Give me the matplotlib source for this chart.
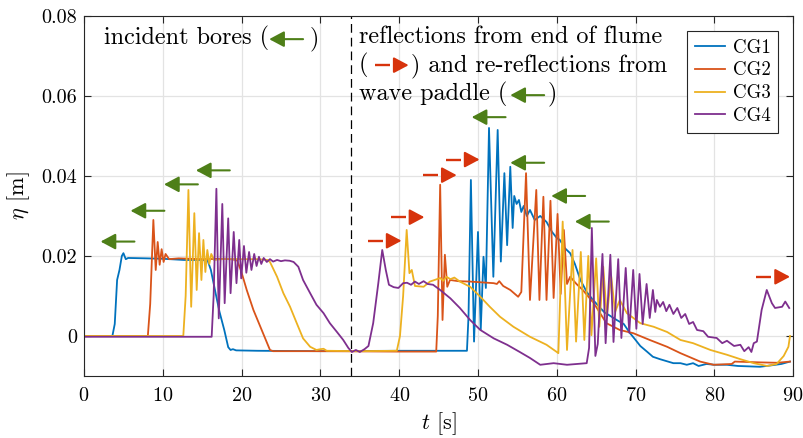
import matplotlib
matplotlib.use('Agg')
import matplotlib.pyplot as plt

plt.rcParams['font.family'] = 'cmr10'
plt.rcParams['mathtext.fontset'] = 'cm'
plt.rcParams['axes.formatter.use_mathtext'] = True

# gauge records, time [s] and surface elevation eta [m]
t_cg1 = [0, 3.6, 3.9, 4.2, 4.5, 4.8, 5.0, 5.3, 5.6, 8, 10, 12.7, 15.0, 15.7, 16.1, 16.7, 17.2,
         17.8, 18.3, 18.6, 18.9, 19.3, 22, 30, 40, 48.6, 48.8, 49.1, 49.5, 50.0, 50.35, 50.7,
         51.0, 51.4, 51.95, 52.5, 52.9, 53.35, 53.7, 54.1, 54.4, 54.6, 54.9, 55.2, 55.5, 55.8,
         56.2, 56.6, 57.2, 57.9, 58.7, 59.4, 60.0, 60.4, 61.0, 61.7, 62.3, 63.0, 63.8, 64.6,
         66.0, 67.6, 68.5, 69.3, 70.0, 70.6, 71.5, 72.2, 73.1, 74.8, 75.7, 76.5, 77.3, 78.0,
         79.0, 80.0, 81.6, 83.0, 85.8, 87.0, 88.5, 89.6]
eta_cg1 = [0, 0, 0.003, 0.014, 0.0165, 0.020, 0.0207, 0.0192, 0.0195, 0.0194, 0.0193, 0.0190,
           0.0190, 0.0188, 0.0165, 0.0107, 0.006, 0.0015, -0.0028, -0.0035, -0.0033, -0.0036,
           -0.0037, -0.0038, -0.0037, -0.0037, 0.005, 0.039, -0.0014, 0.026, 0.0015, 0.0198,
           0.012, 0.052, 0.0148, 0.0515, 0.0186, 0.0407, 0.0227, 0.0423, 0.027, 0.035, 0.033,
           0.034, 0.031, 0.0325, 0.030, 0.0315, 0.029, 0.030, 0.0285, 0.026, 0.0245, 0.024,
           0.022, 0.0207, 0.018, 0.014, 0.011, 0.009, 0.006, 0.004, 0.003, 0.0007, -0.001,
           -0.0025, -0.004, -0.0052, -0.0058, -0.0068, -0.0068, -0.0072, -0.0068, -0.0075,
           -0.007, -0.0072, -0.0072, -0.0075, -0.0077, -0.0074, -0.007, -0.0064]

t_cg2 = [0, 8.1, 8.4, 8.8, 9.1, 9.35, 9.6, 9.85, 10.1, 10.35, 10.8, 12, 15, 18, 19.4, 19.9,
         20.65, 21.5, 22.55, 23.6, 24.0, 30, 40, 44.7, 44.9, 45.2, 45.5, 45.8, 46.1, 46.45,
         47.5, 49.0, 50.5, 52.0, 52.4, 52.7, 53.2, 54.1, 55.1, 55.5, 56.1, 56.6, 57.4, 57.8,
         58.3, 58.7, 59.2, 59.6, 60.1, 60.5, 60.9, 61.3, 61.7, 62.5, 63.3, 64.7, 66.3, 68.0,
         69.7, 71.8, 74.0, 75.7, 78.2, 79.9, 82.2, 82.6, 85.8, 88.0, 89.6]
eta_cg2 = [0, 0, 0.008, 0.029, 0.0165, 0.0235, 0.0178, 0.0217, 0.0185, 0.0205, 0.0192, 0.0194,
           0.0192, 0.0193, 0.0190, 0.0165, 0.0115, 0.0065, 0.0015, -0.0035, -0.0038, -0.0038,
           -0.0039, -0.0039, 0.005, 0.0378, 0.004, 0.0203, 0.0123, 0.014, 0.0137, 0.0136,
           0.0134, 0.0132, 0.0130, 0.0137, 0.0125, 0.0115, 0.0098, 0.011, 0.0407, 0.009,
           0.0365, 0.009, 0.0348, 0.009, 0.0338, 0.0095, 0.0305, 0.0105, 0.0265, 0.013,
           0.0148, 0.013, 0.0115, 0.0082, 0.0032, 0.0015, 0.0007, -0.001, -0.0027, -0.0043,
           -0.0064, -0.0072, -0.0070, -0.0064, -0.0066, -0.0067, -0.0064]

t_cg3 = [0, 12.6, 12.9, 13.25, 13.6, 14.0, 14.3, 14.6, 14.9, 15.15, 15.4, 15.65, 15.9, 16.15,
         16.5, 18, 20, 22, 23.3, 23.6, 24.5, 25.3, 26.15, 27.0, 27.8, 28.7, 29.5, 30.0, 30.4,
         30.8, 35, 39.7, 40.1, 40.5, 40.95, 41.3, 41.6, 42.0, 43.1, 43.9, 44.5, 45.2, 45.6,
         46.0, 46.5, 47.0, 47.7, 49.0, 50.3, 51.5, 52.8, 54.5, 56.6, 58.7, 60.0, 60.2, 60.75,
         61.3, 62.0, 62.45, 63.05, 63.5, 64.0, 64.4, 65.0, 65.4, 65.9, 66.35, 66.9, 67.4,
         68.0, 68.9, 70.6, 72.3, 74.0, 75.7, 77.3, 79.5, 81.6, 83.3, 85.0, 86.7, 87.9, 88.8,
         89.4, 89.6]
eta_cg3 = [0, 0, 0.01, 0.0365, 0.0073, 0.0307, 0.0115, 0.0257, 0.014, 0.024, 0.016, 0.0215,
           0.018, 0.0205, 0.0190, 0.0193, 0.0192, 0.0192, 0.019, 0.0185, 0.0148, 0.0107,
           0.0073, 0.0032, -0.0006, -0.0027, -0.0035, -0.0033, -0.0032, -0.0037, -0.0038,
           -0.0037, 0.0, 0.010, 0.0265, 0.0157, 0.0165, 0.0125, 0.0123, 0.0136, 0.014, 0.0145,
           0.0138, 0.0148, 0.0142, 0.0146, 0.0136, 0.0123, 0.0098, 0.0073, 0.0048, 0.0023,
           -0.0002, -0.0022, -0.004, -0.0043, 0.0286, -0.0035, 0.0215, -0.0014, 0.021, -0.001,
           0.020, 0.0002, 0.0194, 0.0023, 0.0173, 0.0048, 0.015, 0.006, 0.009, 0.0057, 0.0032,
           0.0023, 0.001, -0.001, -0.0018, -0.0035, -0.0047, -0.0058, -0.0068, -0.0075,
           -0.007, -0.005, -0.0027, 0.0]

t_cg4 = [0, 16.2, 16.45, 16.8, 17.1, 17.55, 17.85, 18.3, 18.6, 19.0, 19.35, 19.7, 19.95, 20.3,
         20.6, 20.95, 21.25, 21.6, 21.9, 22.2, 22.5, 22.8, 23.2, 23.6, 24.0, 24.5, 25.0, 25.5,
         26.1, 26.6, 27.2, 27.8, 28.7, 29.5, 30.4, 31.2, 32.1, 32.9, 33.55, 34.0, 34.5, 35.0,
         35.6, 36.1, 36.7, 37.35, 37.85, 38.3, 38.7, 39.3, 39.9, 40.5, 41.0, 41.5, 42.0, 42.5,
         43.1, 43.6, 44.3, 45.2, 46.5, 47.7, 49.0, 50.3, 52.0, 53.7, 55.3, 56.6, 57.9, 59.6,
         61.3, 63.8, 64.1, 64.45, 64.9, 65.2, 65.8, 66.2, 66.8, 67.2, 67.8, 68.2, 68.75, 69.2,
         69.7, 70.1, 70.5, 70.9, 71.4, 71.8, 72.2, 72.5, 72.7, 73.1, 73.5, 73.9, 74.3, 74.8,
         75.3, 75.8, 76.3, 76.8, 77.3, 77.8, 78.6, 79.2, 80.3, 81.0, 81.6, 82.5, 83.3, 83.8,
         84.35, 84.7, 85.0, 85.4, 86.0, 86.65, 87.3, 87.7, 88.6, 89.0, 89.5]
eta_cg4 = [-0.0002, -0.0002, 0.01, 0.0368, 0.0044, 0.033, 0.0082, 0.0294, 0.0107, 0.026,
           0.0132, 0.024, 0.0144, 0.0225, 0.0158, 0.021, 0.0165, 0.0205, 0.0175, 0.0198, 0.018,
           0.0195, 0.0185, 0.0192, 0.0186, 0.0190, 0.0187, 0.0189, 0.0188, 0.0185, 0.0173,
           0.014, 0.0107, 0.0078, 0.0057, 0.0032, 0.001, -0.001, -0.003, -0.004, -0.0035,
           -0.004, -0.0033, -0.0025, 0.0032, 0.0132, 0.0215, 0.0165, 0.0128, 0.0122, 0.012,
           0.0132, 0.0133, 0.0128, 0.0136, 0.013, 0.0137, 0.013, 0.0128, 0.0115, 0.0094, 0.007,
           0.004, 0.0015, -0.0006, -0.0022, -0.004, -0.0055, -0.0072, -0.0068, -0.0072,
           -0.0068, -0.003, 0.027, -0.005, -0.002, 0.0205, -0.0018, 0.0203, -0.0015, 0.0192,
           -0.0005, 0.0170, 0.0008, 0.0165, 0.0018, 0.0155, 0.003, 0.013, 0.0045, 0.0115,
           0.006, 0.009, 0.0073, 0.0085, 0.0062, 0.0078, 0.0055, 0.007, 0.0045, 0.0055, 0.003,
           0.0035, 0.0015, 0.0012, -0.0002, -0.0005, -0.0018, -0.0012, -0.0025, -0.0022,
           -0.0038, -0.0028, -0.004, -0.0018, -0.0014, 0.0065, 0.0115, 0.0082, 0.007, 0.0073,
           0.0086, 0.007]

labels = ['CG1', 'CG2', 'CG3', 'CG4']
colors = ['#0072BD', '#D95319', '#EDB120', '#7E2F8E']

# arrow tips (t, eta)
green_tips = [(2.1, 0.0236), (5.9, 0.0313), (10.15, 0.0379), (14.2, 0.0414),
              (49.2, 0.0547), (54.1, 0.0433), (59.3, 0.035), (62.3, 0.0286)]
red_tips = [(40.3, 0.0238), (43.2, 0.0297), (47.3, 0.0402), (50.2, 0.0441), (89.6, 0.0148)]
t_split = 33.9

green = '#4E7F18'
red = '#D7330C'

fig = plt.figure(figsize=(8.04, 4.38), dpi=100)
ax = fig.add_axes([0.1045, 0.1416, 0.882, 0.822])

series = [(t_cg1, eta_cg1), (t_cg2, eta_cg2), (t_cg3, eta_cg3), (t_cg4, eta_cg4)]
for (tt, ee), lab, c in zip(series, labels, colors):
    ax.plot(tt, ee, color=c, lw=1.3, label=lab)

ax.axvline(t_split, color='black', lw=0.9, ls=(0, (7, 4)))

arrow_len = 4.3
head = dict(arrowstyle='-|>,head_length=0.45,head_width=0.24', mutation_scale=20,
            shrinkA=0, shrinkB=0, lw=1.5)


def green_arrow(x, y):
    ax.annotate('', xy=(x, y), xytext=(x + arrow_len, y),
                arrowprops=dict(color=green, **head))


def red_arrow(x, y):
    ax.plot([x - arrow_len, x - 2.35], [y, y], color=red, lw=1.7, solid_capstyle='butt')
    ax.annotate('', xy=(x, y), xytext=(x - 1.75, y),
                arrowprops=dict(color=red, **head))


for x, y in green_tips:
    green_arrow(x, y)
for x, y in red_tips:
    red_arrow(x, y)

# annotation text
fs = 17.4
ax.text(2.5, 0.0729, 'incident bores (', fontsize=fs)
green_arrow(23.5, 0.0742)
ax.text(28.6, 0.0729, ')', fontsize=fs)

ax.text(34.9, 0.0733, 'reflections from end of flume', fontsize=fs)
ax.text(34.9, 0.0662, '(', fontsize=fs)
red_arrow(41.2, 0.0677)
ax.text(41.5, 0.0662, ') and re-reflections from', fontsize=fs)
ax.text(34.9, 0.0590, 'wave paddle (', fontsize=fs)
green_arrow(54.1, 0.0602)
ax.text(58.8, 0.0590, ')', fontsize=fs)

ax.set_xlim(0, 90)
ax.set_ylim(-0.01, 0.08)
ax.set_xticks(range(0, 91, 10))
ax.set_yticks([0, 0.02, 0.04, 0.06, 0.08])
ax.set_yticklabels(['0', '0.02', '0.04', '0.06', '0.08'])
ax.tick_params(direction='in', top=True, right=True, length=5, width=0.8,
               labelsize=14.5, colors='#262626', labelcolor='black')
ax.tick_params(axis='x', pad=8)
ax.tick_params(axis='y', pad=5)
ax.grid(True, color='#e3e3e3', lw=0.9)
ax.set_axisbelow(True)
for s in ax.spines.values():
    s.set_color('#262626')
    s.set_linewidth(0.8)

ax.set_xlabel(r'$t$ [s]', fontsize=16, labelpad=3.5)
ax.set_ylabel(r'$\eta$ [m]', fontsize=16, labelpad=7)

leg = ax.legend(loc='upper right', fontsize=13.6, fancybox=False, framealpha=1,
                edgecolor='#262626', borderaxespad=0.8, labelspacing=0.26,
                handlelength=1.6, handletextpad=0.4, borderpad=0.4)
leg.get_frame().set_linewidth(0.8)

fig.savefig('out.png', dpi=100)
